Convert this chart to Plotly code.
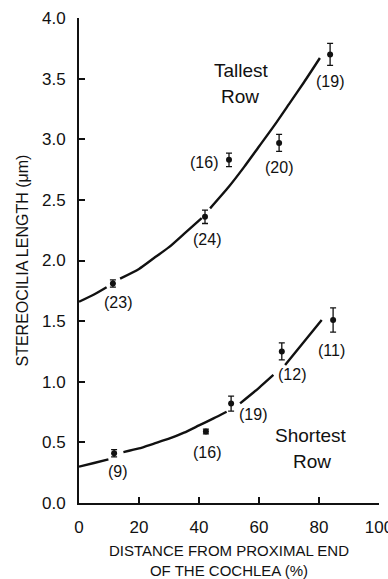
import plotly.graph_objects as go

# ---- data ----
tall_x = [11.3, 42.0, 50.0, 66.7, 83.7]
tall_y = [1.81, 2.36, 2.83, 2.97, 3.70]
tall_err = [0.03, 0.055, 0.055, 0.07, 0.09]
tall_n = ["(23)", "(24)", "(16)", "(20)", "(19)"]
tall_lbl_x = [13.0, 42.6, 41.5, 66.8, 83.7]
tall_lbl_y = [1.65, 2.17, 2.81, 2.77, 3.48]

short_x = [11.7, 42.3, 50.7, 67.6, 84.7]
short_y = [0.41, 0.59, 0.82, 1.25, 1.51]
short_err = [0.03, 0.02, 0.062, 0.07, 0.10]
short_n = ["(9)", "(16)", "(19)", "(12)", "(11)"]
short_lbl_x = [13.1, 42.6, 57.9, 70.9, 84.2]
short_lbl_y = [0.26, 0.42, 0.73, 1.06, 1.26]

# fitted curves (None = break in the drawn line)
tall_curve_x = [0, 5, 9.2, None, 13.7, 20, 25, 30, 35, 40.9, None, 43.7, 50, 55, 60, 65, 70, 75, 80.3]
tall_curve_y = [1.66, 1.72, 1.78, None, 1.85, 1.93, 2.02, 2.11, 2.22, 2.35, None, 2.43, 2.61, 2.77, 2.94, 3.11, 3.29, 3.47, 3.67]

short_curve_x = [0, 5, 9.8, None, 14.8, 20, 25, 30, 35, 40, 45, 49.2, None, 53.7, 60, 64.8, None, 68.7, 75, 80.9]
short_curve_y = [0.30, 0.33, 0.36, None, 0.42, 0.45, 0.49, 0.53, 0.58, 0.64, 0.70, 0.753, None, 0.822, 0.95, 1.056, None, 1.138, 1.33, 1.509]

row_labels = [("Tallest", 54.0, 3.57), ("Row", 53.7, 3.35), ("Shortest", 77.0, 0.56), ("Row", 77.6, 0.34)]

x_ticks = [0, 20, 40, 60, 80, 100]
y_ticks = [0.0, 0.5, 1.0, 1.5, 2.0, 2.5, 3.0, 3.5, 4.0]

FONT = "Liberation Sans, Arial, sans-serif"
INK = "#111111"

fig = go.Figure()

for cx, cy in [(tall_curve_x, tall_curve_y), (short_curve_x, short_curve_y)]:
    fig.add_trace(go.Scatter(
        x=cx, y=cy, mode="lines", line=dict(color=INK, width=2.4, shape="spline", smoothing=0.6),
        connectgaps=False, hoverinfo="skip", showlegend=False))

for px, py, pe in [(tall_x, tall_y, tall_err), (short_x, short_y, short_err)]:
    fig.add_trace(go.Scatter(
        x=px, y=py, mode="markers",
        marker=dict(color=INK, size=6, symbol="circle"),
        error_y=dict(type="data", array=pe, visible=True, color=INK, thickness=1.3, width=3),
        showlegend=False))

annotations = []
for lx, ly, t in list(zip(tall_lbl_x, tall_lbl_y, tall_n)) + list(zip(short_lbl_x, short_lbl_y, short_n)):
    annotations.append(dict(x=lx, y=ly, text=t, showarrow=False, xref="x", yref="y",
                            font=dict(family=FONT, size=16, color=INK)))

for t, lx, ly in row_labels:
    annotations.append(dict(x=lx, y=ly, text=t, showarrow=False, xref="x", yref="y",
                            font=dict(family=FONT, size=19, color=INK)))

# y-axis title
annotations.append(dict(x=-0.19, y=0.5, xref="paper", yref="paper", xanchor="center", yanchor="middle",
                        text="STEREOCILIA LENGTH (μm)", showarrow=False, textangle=-90,
                        font=dict(family=FONT, size=16, color=INK)))

fig.update_layout(
    width=388, height=579,
    margin=dict(l=79, r=9, t=18, b=76, autoexpand=False),
    paper_bgcolor="white", plot_bgcolor="white",
    font=dict(family=FONT, size=15, color=INK),
    annotations=annotations,
    xaxis=dict(range=[0, 100], tickvals=x_ticks, ticktext=[str(v) for v in x_ticks],
               showline=True, linecolor=INK, linewidth=2, ticks="inside", ticklen=6,
               tickwidth=1.5, tickcolor=INK, showgrid=False, zeroline=False,
               ticklabeloverflow="allow", ticklabelstandoff=8, automargin=False,
               tickfont=dict(family=FONT, size=17, color=INK),
               title=dict(text="DISTANCE FROM PROXIMAL END<br>OF THE COCHLEA (%)",
                          font=dict(family=FONT, size=15, color=INK), standoff=13)),
    yaxis=dict(range=[0, 4.0], tickvals=y_ticks, ticktext=[f"{v:.1f}" for v in y_ticks],
               showline=True, linecolor=INK, linewidth=2, ticks="inside", ticklen=6,
               tickwidth=1.5, tickcolor=INK, showgrid=False, zeroline=False,
               ticklabelstandoff=8, automargin=False,
               tickfont=dict(family=FONT, size=17, color=INK)),
)

fig.write_html("out.html", config={"displayModeBar": False},
               post_script="document.body.style.margin='0';document.body.style.padding='0';")
